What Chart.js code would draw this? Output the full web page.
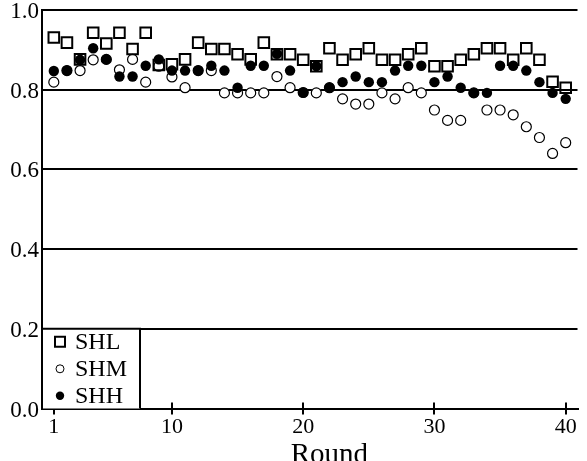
<!DOCTYPE html>
<html>
<head>
<meta charset="utf-8">
<script src="https://cdn.jsdelivr.net/npm/chart.js@4/dist/chart.umd.min.js"></script>
<style>
  body { margin: 0; background: #fff; }
  canvas { display: block; }
</style>
</head>
<body>
<canvas id="chart" width="587" height="461"></canvas>
<script>
const rounds = Array.from({ length: 40 }, (_, i) => i + 1);

const shl = [
  0.931, 0.918, 0.876, 0.943, 0.916, 0.943, 0.902, 0.943, 0.862, 0.864,
  0.876, 0.918, 0.902, 0.902, 0.889, 0.876, 0.918, 0.889, 0.889, 0.875,
  0.859, 0.904, 0.875, 0.889, 0.904, 0.875, 0.875, 0.889, 0.904, 0.859,
  0.859, 0.875, 0.889, 0.904, 0.904, 0.875, 0.904, 0.875, 0.820, 0.805,
];
const shm = [
  0.819, 0.848, 0.848, 0.875, 0.876, 0.850, 0.876, 0.819, 0.859, 0.832,
  0.805, 0.848, 0.848, 0.792, 0.792, 0.792, 0.792, 0.833, 0.805, 0.793,
  0.792, 0.805, 0.777, 0.764, 0.764, 0.792, 0.777, 0.805, 0.792, 0.749,
  0.723, 0.723, 0.792, 0.749, 0.749, 0.737, 0.707, 0.680, 0.640, 0.667,
];
const shh = [
  0.847, 0.848, 0.875, 0.904, 0.876, 0.833, 0.833, 0.860, 0.876, 0.848,
  0.848, 0.848, 0.860, 0.848, 0.805, 0.860, 0.860, 0.890, 0.848, 0.793,
  0.859, 0.805, 0.819, 0.833, 0.819, 0.819, 0.848, 0.860, 0.860, 0.819,
  0.833, 0.805, 0.792, 0.792, 0.860, 0.860, 0.848, 0.819, 0.792, 0.777,
];

const xTicks = [1, 10, 20, 30, 40];
const yTicks = [0, 0.2, 0.4, 0.6, 0.8, 1.0];
const xTitle = "Round";

const serif = "'Liberation Serif', 'DejaVu Serif', serif";

function points(values) {
  return rounds.map((r, i) => ({ x: r, y: values[i] }));
}

// ticks on the x axis stick out on both sides of the line
const tickMarks = {
  id: "tickMarks",
  afterDraw(chart) {
    const ctx = chart.ctx;
    const xs = chart.scales.x;
    const yBase = chart.chartArea.bottom;
    ctx.save();
    ctx.strokeStyle = "#000";
    ctx.lineWidth = 2;
    xTicks.forEach((t) => {
      const px = Math.round(xs.getPixelForValue(t));
      ctx.beginPath();
      ctx.moveTo(px, yBase - 6);
      ctx.lineTo(px, yBase);
      ctx.stroke();
    });
    // axis title
    ctx.fillStyle = "#000";
    ctx.font = "29px " + serif;
    ctx.textAlign = "center";
    ctx.textBaseline = "alphabetic";
    ctx.fillText(xTitle, xs.getPixelForValue(22), 463);
    ctx.restore();
  },
};

// boxed legend in the lower-left corner of the plot
const boxLegend = {
  id: "boxLegend",
  afterDraw(chart) {
    const ctx = chart.ctx;
    const ys = chart.scales.y;
    const left = chart.chartArea.left;
    const top = ys.getPixelForValue(0.2);
    const bottom = ys.getPixelForValue(0);
    const right = left + 98;
    ctx.save();
    ctx.fillStyle = "#fff";
    ctx.fillRect(left + 1, top, right - left - 1, bottom - top);
    ctx.strokeStyle = "#000";
    ctx.lineWidth = 2;
    ctx.beginPath();
    ctx.moveTo(left, top);
    ctx.lineTo(right, top);
    ctx.lineTo(right, bottom);
    ctx.stroke();

    chart.data.datasets
      .slice()
      .sort((a, b) => a.legendIndex - b.legendIndex)
      .forEach((ds, i) => {
        const cy = top + 13 + i * 27;
        const cx = left + 18;
        ctx.beginPath();
        if (ds.pointStyle === "rect") {
          ctx.lineWidth = 2;
          ctx.rect(cx - 5, cy - 5, 10, 10);
          ctx.stroke();
        } else if (ds.pointBackgroundColor === "#000") {
          ctx.arc(cx, cy, 4.2, 0, Math.PI * 2);
          ctx.fillStyle = "#000";
          ctx.fill();
        } else {
          ctx.lineWidth = 1;
          ctx.arc(cx, cy, 4, 0, Math.PI * 2);
          ctx.stroke();
        }
        ctx.fillStyle = "#000";
        ctx.font = "24px " + serif;
        ctx.textAlign = "left";
        ctx.textBaseline = "middle";
        ctx.fillText(ds.label, cx + 15, cy + 1);
      });
    ctx.restore();
  },
};

new Chart(document.getElementById("chart"), {
  type: "scatter",
  data: {
    datasets: [
      {
        label: "SHL",
        legendIndex: 0,
        data: points(shl),
        pointStyle: "rect",
        pointRadius: 7.5,
        pointBorderWidth: 2,
        pointBorderColor: "#000",
        pointBackgroundColor: "rgba(0,0,0,0)",
        order: 1,
      },
      {
        label: "SHM",
        legendIndex: 1,
        data: points(shm),
        pointStyle: "circle",
        pointRadius: 5,
        pointBorderWidth: 1.2,
        pointBorderColor: "#000",
        pointBackgroundColor: "#fff",
        order: 3,
      },
      {
        label: "SHH",
        legendIndex: 2,
        data: points(shh),
        pointStyle: "circle",
        pointRadius: 5.2,
        pointBorderWidth: 0,
        pointBorderColor: "#000",
        pointBackgroundColor: "#000",
        order: 2,
      },
    ],
  },
  options: {
    responsive: false,
    animation: false,
    events: [],
    layout: {
      padding: { top: 10, right: 0, bottom: 0, left: 0 },
    },
    scales: {
      x: {
        type: "linear",
        min: 0.1,
        max: 40.9,
        afterBuildTicks: (scale) => {
          scale.ticks = xTicks.map((v) => ({ value: v }));
        },
        afterFit: (scale) => {
          scale.height = 52.5;
          scale.paddingLeft = 0;
          scale.paddingRight = 0;
        },
        grid: {
          drawOnChartArea: false,
          drawTicks: true,
          tickLength: 6,
          color: "#000",
          lineWidth: 2,
        },
        border: { display: true, color: "#000", width: 2 },
        ticks: {
          autoSkip: false,
          maxRotation: 0,
          padding: 0,
          color: "#000",
          font: { family: serif, size: 22 },
        },
      },
      y: {
        min: 0,
        max: 1,
        afterBuildTicks: (scale) => {
          scale.ticks = yTicks.map((v) => ({ value: v }));
        },
        afterFit: (scale) => {
          scale.width = 42;
          scale.paddingTop = 0;
          scale.paddingBottom = 0;
        },
        grid: {
          drawTicks: false,
          color: "#000",
          lineWidth: 2,
        },
        border: { display: true, color: "#000", width: 2 },
        ticks: {
          padding: 3,
          labelOffset: 2,
          color: "#000",
          font: { family: serif, size: 23 },
          callback: (v) => v.toFixed(1),
        },
      },
    },
    plugins: {
      legend: { display: false },
      tooltip: { enabled: false },
    },
  },
  plugins: [tickMarks, boxLegend],
});
</script>
</body>
</html>
